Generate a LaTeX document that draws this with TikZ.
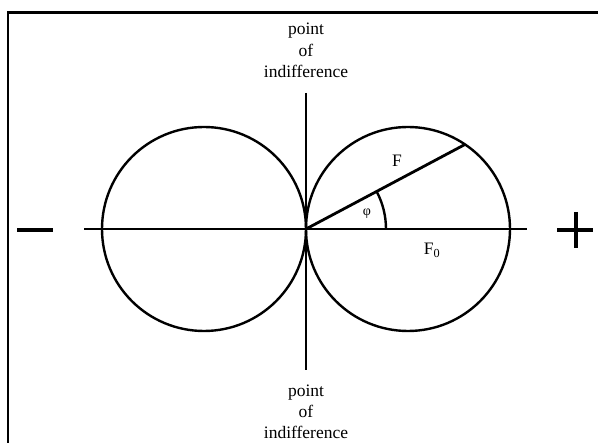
\documentclass[tikz,border=0pt]{standalone}
\usepackage{fontspec}
\setmainfont{Liberation Serif}
\usetikzlibrary{calc}
\begin{document}
\begin{tikzpicture}[x=1pt,y=-1pt,
  axis/.style={line width=2.8pt},
  circ/.style={line width=2.4pt},
  sign/.style={line width=4pt},
  lbl/.style={font=\fontsize{17.5}{21}\selectfont, anchor=base, inner sep=0pt},
  sym/.style={font=\fontsize{14}{16}\selectfont, anchor=base, inner sep=0pt}]
\useasboundingbox (0,0) rectangle (598,443);
% frame
\draw[line width=2.4pt] (8,450) -- (8,12.5) -- (605,12.5);
% key points
\coordinate (O) at (306,229);
\coordinate (L) at (84,229);
\coordinate (R) at (527,229);
\coordinate (T) at (306,93);
\coordinate (B) at (306,370);
\coordinate (CL) at (204,229);
\coordinate (CR) at (408,229);
% circles
\draw[circ] (CL) circle[radius=102];
\draw[circ] (CR) circle[radius=102];
% axes
\draw[axis] (L) -- (R);
\draw[axis] (T) -- (B);
% F line
\draw[axis] (O) -- ++(-28:180.1) coordinate (Fe);
% angle arc
\draw[circ] ($(O)+(80,0)$) arc[start angle=0,end angle=-28,radius=80];
% labels
\node[lbl] (top1) at (306,35) {point};
\node[lbl] (top2) at (306,57) {of};
\node[lbl] (top3) at (306,78) {indifference};
\node[lbl] (bot1) at (306,397) {point};
\node[lbl] (bot2) at (306,418) {of};
\node[lbl] (bot3) at (306,438.5) {indifference};
\node[sym] (phi) at (367,216) {φ};
\node[lbl] (F) at (397,167) {F};
\node[lbl] (F0) at (432,255) {F\textsubscript{0}};
% signs
\draw[sign] (17,230) -- (53,230);
\draw[sign] (557,230) -- (593,230);
\draw[sign] (576,212) -- (576,248);
\end{tikzpicture}
\end{document}
